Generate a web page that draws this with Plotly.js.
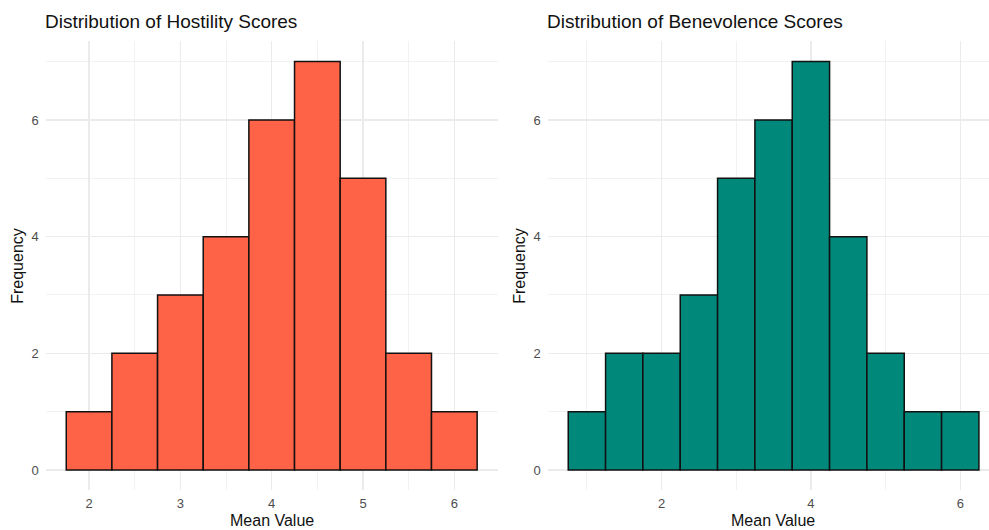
<!DOCTYPE html>
<html>
<head>
<meta charset="utf-8">
<script src="https://cdn.plot.ly/plotly-3.0.1.min.js"></script>
<style>
  html, body { margin: 0; padding: 0; background: #fff; }
  #chart { width: 989px; height: 530px; }
</style>
</head>
<body>
<div id="chart"></div>
<script>
// Histogram bins (centres, width 0.5) and frequencies
const hostilityBins = [2, 2.5, 3, 3.5, 4, 4.5, 5, 5.5, 6];
const hostilityCounts = [1, 2, 3, 4, 6, 7, 5, 2, 1];

const benevolenceBins = [1, 1.5, 2, 2.5, 3, 3.5, 4, 4.5, 5, 5.5, 6];
const benevolenceCounts = [1, 2, 2, 3, 5, 6, 7, 4, 2, 1, 1];

const binWidth = 0.5;

const panelTitles = ['Distribution of Hostility Scores', 'Distribution of Benevolence Scores'];
const xTitle = 'Mean Value';
const yTitle = 'Frequency';

const W = 989, H = 530;
const px = v => v / W;
const py = v => 1 - v / H;

const font = 'Liberation Sans, Arial, Helvetica, sans-serif';
const grid = '#EBEBEB';

function barTrace(x, y, color, xa, ya) {
  return {
    type: 'bar', x: x, y: y, width: x.map(() => binWidth),
    xaxis: xa, yaxis: ya,
    marker: { color: color, line: { color: '#111111', width: 1.5 } },
    hoverinfo: 'x+y', showlegend: false
  };
}

const data = [
  barTrace(hostilityBins, hostilityCounts, '#FF6347', 'x', 'y'),
  barTrace(benevolenceBins, benevolenceCounts, '#00897B', 'x2', 'y2')
];

function xAxis(domain, range, dtick, anchor) {
  return {
    domain: domain, range: range, anchor: anchor,
    tickmode: 'linear', tick0: 0, dtick: dtick,
    showgrid: true, gridcolor: grid, gridwidth: 1.3,
    zeroline: false, showline: false, ticks: '',
    ticklabelstandoff: 4,
    tickfont: { family: font, size: 13, color: '#4D4D4D' },
    minor: { tickmode: 'linear', tick0: 0, dtick: dtick / 2, showgrid: true, gridcolor: '#EFEFEF', gridwidth: 0.8 },
    fixedrange: true
  };
}
function yAxis(domain, anchor) {
  return {
    domain: domain, range: [-0.35, 7.35], anchor: anchor,
    tickmode: 'linear', tick0: 0, dtick: 2,
    showgrid: true, gridcolor: grid, gridwidth: 1.3,
    zeroline: false, showline: false, ticks: '',
    ticklabelstandoff: 6,
    tickfont: { family: font, size: 13, color: '#4D4D4D' },
    minor: { tickmode: 'linear', tick0: 0, dtick: 1, showgrid: true, gridcolor: '#EFEFEF', gridwidth: 0.8 },
    fixedrange: true
  };
}

const yDomain = [py(490.4), py(41.2)];
const lx = [45.7, 497.7], rx = [547.7, 989];

const layout = {
  width: W, height: H,
  margin: { l: 0, r: 0, t: 0, b: 0 },
  paper_bgcolor: '#fff', plot_bgcolor: '#fff',
  bargap: 0,
  font: { family: font },
  xaxis: xAxis([px(lx[0]), px(lx[1])], [1.525, 6.475], 1, 'y'),
  yaxis: yAxis(yDomain, 'x'),
  xaxis2: xAxis([px(rx[0]), 1], [0.475, 0.475 + (rx[1] - rx[0]) / 74.67], 2, 'y2'),
  yaxis2: yAxis(yDomain, 'x2'),
  annotations: [
    { text: panelTitles[0], xref: 'paper', yref: 'paper', x: px(lx[0] - 2.5), y: py(22), xanchor: 'left', yanchor: 'middle', showarrow: false, font: { family: font, size: 19, color: '#111111' } },
    { text: panelTitles[1], xref: 'paper', yref: 'paper', x: px(rx[0] - 2.5), y: py(22), xanchor: 'left', yanchor: 'middle', showarrow: false, font: { family: font, size: 19, color: '#111111' } },
    { text: xTitle, xref: 'paper', yref: 'paper', x: px((lx[0] + lx[1]) / 2), y: py(520), xanchor: 'center', yanchor: 'middle', showarrow: false, font: { family: font, size: 16, color: '#111111' } },
    { text: xTitle, xref: 'paper', yref: 'paper', x: px((rx[0] + 999) / 2), y: py(520), xanchor: 'center', yanchor: 'middle', showarrow: false, font: { family: font, size: 16, color: '#111111' } },
    { text: yTitle, xref: 'paper', yref: 'paper', x: px(18), y: py(265.8), xanchor: 'center', yanchor: 'middle', textangle: -90, showarrow: false, font: { family: font, size: 16, color: '#111111' } },
    { text: yTitle, xref: 'paper', yref: 'paper', x: px(520), y: py(265.8), xanchor: 'center', yanchor: 'middle', textangle: -90, showarrow: false, font: { family: font, size: 16, color: '#111111' } }
  ]
};

Plotly.newPlot('chart', data, layout, { displayModeBar: false, staticPlot: true });
</script>
</body>
</html>
